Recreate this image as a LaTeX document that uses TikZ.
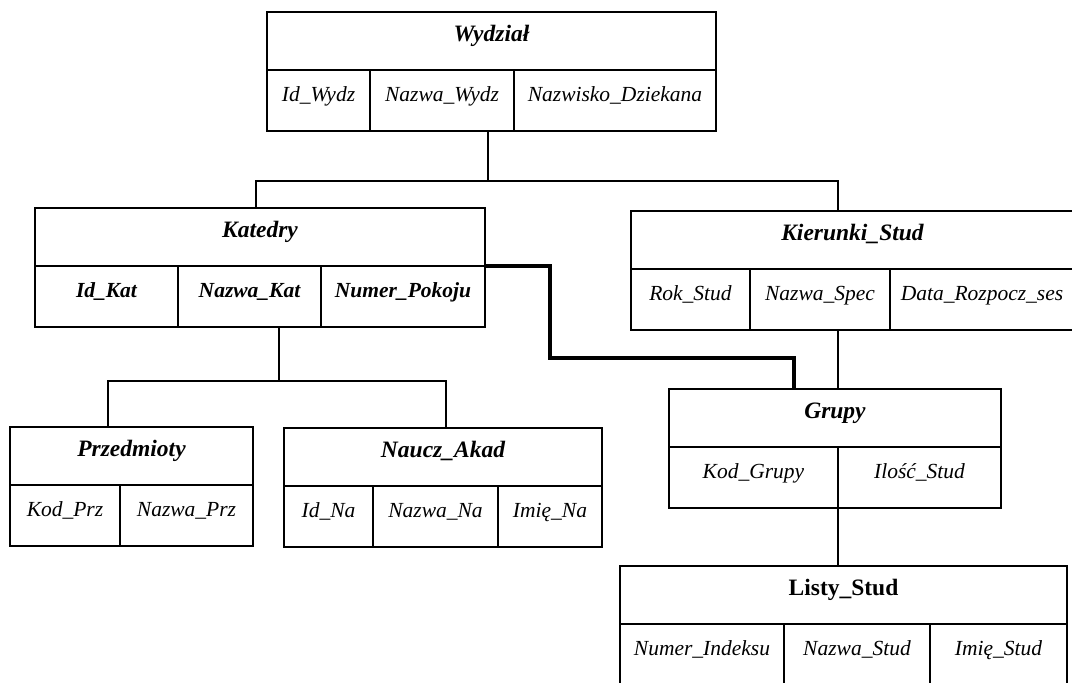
\documentclass[tikz,border=0pt]{standalone}
\usepackage{fontspec}
\setmainfont{Liberation Serif}
\usetikzlibrary{calc}

\tikzset{
  cell/.style={draw, line width=2pt, inner sep=0pt, outer sep=0pt, anchor=north west},
  ttl/.style={cell, text height=29pt, text depth=29pt,
              font=\fontsize{23.5}{28}\selectfont\bfseries\itshape},
  ttlup/.style={ttl, font=\fontsize{23.5}{28}\selectfont\bfseries},
  att/.style={cell, text height=31pt, text depth=30pt,
              font=\fontsize{21.5}{26}\selectfont\itshape},
  attb/.style={att, font=\fontsize{21.5}{26}\selectfont\bfseries\itshape},
  link/.style={line width=1.6pt},
  fatlink/.style={line width=3.6pt},
}

\begin{document}
\begin{tikzpicture}[x=1pt,y=-1pt]
\useasboundingbox (0,0) rectangle (1072,683);
\clip (0,0) rectangle (1072,683);

% Wydzial
\node[ttl, minimum width=449pt] (wyd) at (267,12) {Wydział};
\node[att, minimum width=103pt] (wyd1) at (267,70) {Id\_Wydz};
\node[att, minimum width=144pt] (wyd2) at (370,70) {Nazwa\_Wydz};
\node[att, minimum width=202pt] (wyd3) at (514,70) {Nazwisko\_Dziekana};

% Katedry
\node[ttl, minimum width=450pt] (kat) at (35,208) {Katedry};
\node[attb, minimum width=143pt] (kat1) at (35,266) {Id\_Kat};
\node[attb, minimum width=143pt] (kat2) at (178,266) {Nazwa\_Kat};
\node[attb, minimum width=164pt] (kat3) at (321,266) {Numer\_Pokoju};

% Kierunki_Stud
\node[ttl, minimum width=443pt] (kie) at (631,211) {Kierunki\_Stud};
\node[att, minimum width=119pt] (kie1) at (631,269) {Rok\_Stud};
\node[att, minimum width=140pt] (kie2) at (750,269) {Nazwa\_Spec};
\node[att, minimum width=184pt] (kie3) at (890,269) {Data\_Rozpocz\_ses};

% Przedmioty
\node[ttl, minimum width=243pt] (prz) at (10,427) {Przedmioty};
\node[att, minimum width=110pt] (prz1) at (10,485) {Kod\_Prz};
\node[att, minimum width=133pt] (prz2) at (120,485) {Nazwa\_Prz};

% Naucz_Akad
\node[ttl, minimum width=318pt] (nau) at (284,428) {Naucz\_Akad};
\node[att, minimum width=89pt] (nau1) at (284,486) {Id\_Na};
\node[att, minimum width=125pt] (nau2) at (373,486) {Nazwa\_Na};
\node[att, minimum width=104pt] (nau3) at (498,486) {Imię\_Na};

% Grupy
\node[ttl, minimum width=332pt] (gru) at (669,389) {Grupy};
\node[att, minimum width=169pt] (gru1) at (669,447) {Kod\_Grupy};
\node[att, minimum width=163pt] (gru2) at (838,447) {Ilość\_Stud};

% Listy_Stud
\node[ttlup, minimum width=447pt] (lis) at (620,566) {Listy\_Stud};
\node[att, minimum width=164pt] (lis1) at (620,624) {Numer\_Indeksu};
\node[att, minimum width=146pt] (lis2) at (784,624) {Nazwa\_Stud};
\node[att, minimum width=137pt] (lis3) at (930,624) {Imię\_Stud};

% junction points of the tree connectors
\coordinate (jw) at (488,181);
\coordinate (jl) at (256,181);
\coordinate (jr) at (838,181);
\coordinate (jk) at (279,381);
\coordinate (jkl) at (108,381);
\coordinate (jkr) at (446,381);
\coordinate (t1) at (550,358);
\coordinate (t2) at (794,358);

% Wydzial -> Katedry, Kierunki_Stud
\draw[link] (jw |- wyd2.south) -- (jw);
\draw[link] (jl |- kat.north) -- (jl) -- (jr) -- (jr |- kie.north);

% Katedry -> Przedmioty, Naucz_Akad
\draw[link] (jk |- kat2.south) -- (jk);
\draw[link] (jkl |- prz.north) -- (jkl) -- (jkr) -- (jkr |- nau.north);

% Kierunki_Stud -> Grupy -> Listy_Stud
\draw[link] (jr |- kie2.south) -- (jr |- gru.north);
\draw[link] (gru2.south west) -- (gru2.south west |- lis.north);

% Katedry -> Grupy
\draw[fatlink] (kat3.north east) -| (t1) -- (t2) -- (t2 |- gru.north);
\end{tikzpicture}
\end{document}
